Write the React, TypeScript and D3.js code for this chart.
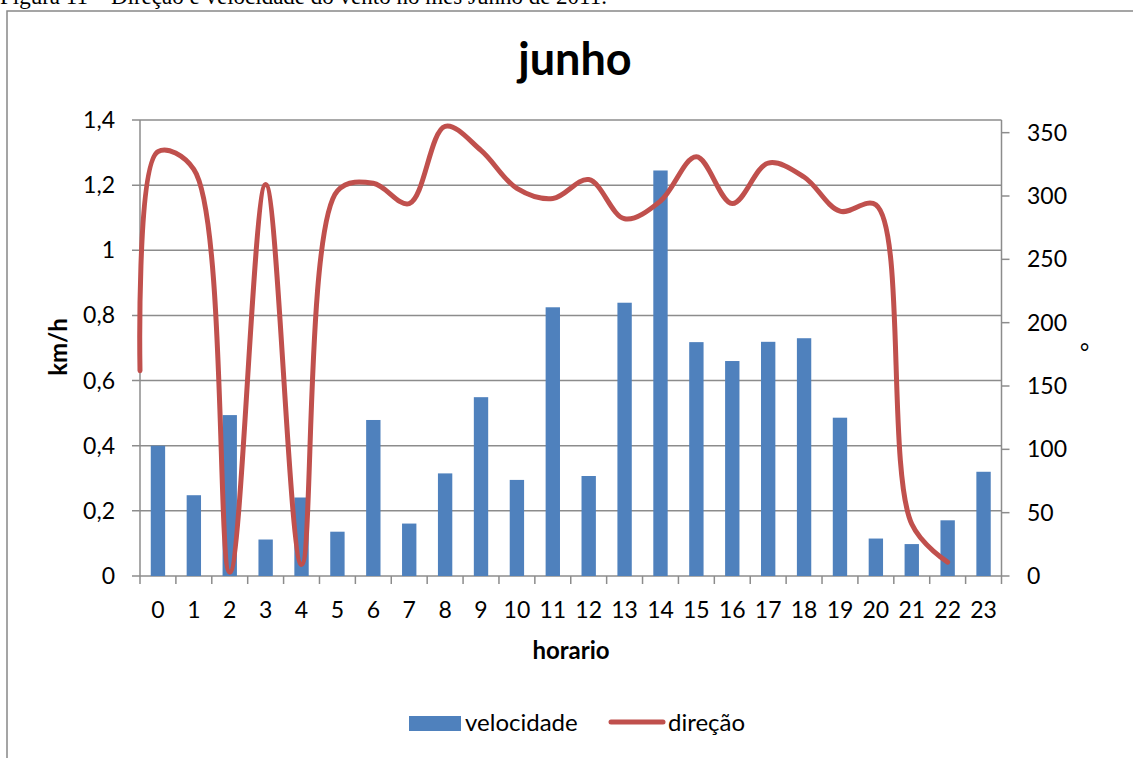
import React from "react";
import * as d3 from "d3";

// horas do dia (categorias)
const horas = ["0", "1", "2", "3", "4", "5", "6", "7", "8", "9", "10", "11", "12", "13", "14", "15", "16", "17", "18", "19", "20", "21", "22", "23"];
// velocidade media (km/h)
const velocidade = [0.40, 0.248, 0.494, 0.112, 0.241, 0.136, 0.479, 0.161, 0.315, 0.549, 0.295, 0.825, 0.307, 0.839, 1.245, 0.718, 0.66, 0.719, 0.73, 0.486, 0.115, 0.098, 0.171, 0.32];
// direcao media (graus), sem valor na hora 23
const direcao = [335, 321, 3, 309, 9, 304, 310, 294, 355, 336, 306, 298, 313, 282, 296, 331, 294, 326, 315, 288, 293, 41, 11, null];
// a linha comeca na borda esquerda do grafico
const direcaoInicio = 162;

const ticksKmh = [0, 0.2, 0.4, 0.6, 0.8, 1, 1.2, 1.4];
const ticksGraus = [0, 50, 100, 150, 200, 250, 300, 350];

const W = 1133;
const H = 758;
const left = 140;
const right = 1001.5;
const top = 120;
const bottom = 576;

const font = "Lato, 'Open Sans', sans-serif";
const grid = "#8c8c8c";
const azul = "#4F81BD";
const vermelho = "#C0504D";

export default function App() {
	const x = d3.scaleBand().domain(horas).range([left, right]).padding(0);
	const y = d3.scaleLinear().domain([0, 1.4]).range([bottom, top]);
	const y2 = d3.scaleLinear().domain([0, 360]).range([bottom, top]);
	const bw = x.bandwidth() / 2.5;
	const fmt = (v) => String(Math.round(v * 10) / 10).replace(".", ",");

	const pts = [[x(horas[0]), y2(direcaoInicio)]];
	direcao.forEach((d, i) => {
		if (d !== null) pts.push([x(horas[i]) + x.bandwidth() / 2, y2(d)]);
	});
	const line = d3.line().curve(d3.curveCatmullRom.alpha(0.5));

	return (
		<svg width={W} height={H} style={{ position: "absolute", left: 0, top: 0, background: "#fff" }}>
			<text x={0} y={4} fontFamily="'Liberation Serif', serif" fontSize={23} fill="#000">
				Figura 11 – Direção e velocidade do vento no mês Junho de 2011.
			</text>
			<rect x={7} y={11} width={1200} height={800} fill="none" stroke="#888" strokeWidth={1.5} />

			<text x={575} y={75} textAnchor="middle" fontFamily={font} fontWeight="bold" fontSize={45}>junho</text>

			{/* grade e eixo esquerdo */}
			{ticksKmh.map((t) => (
				<g key={"g" + t}>
					<line x1={left - 8} x2={right} y1={y(t)} y2={y(t)} stroke={grid} strokeWidth={1.5} />
					<text x={115} y={y(t)} dy="0.35em" textAnchor="end" fontFamily={font} fontSize={23}>{fmt(t)}</text>
				</g>
			))}
			<line x1={left} x2={left} y1={top} y2={bottom} stroke={grid} strokeWidth={1.5} />

			{/* eixo direito */}
			<line x1={right} x2={right} y1={top} y2={bottom + 8} stroke={grid} strokeWidth={1.5} />
			{ticksGraus.map((t) => (
				<g key={"r" + t}>
					<line x1={right} x2={right + 8} y1={y2(t)} y2={y2(t)} stroke={grid} strokeWidth={1.5} />
					<text x={1027} y={y2(t)} dy="0.35em" fontFamily={font} fontSize={23}>{t}</text>
				</g>
			))}

			{/* eixo x */}
			{horas.map((h) => (
				<g key={"x" + h}>
					<line x1={x(h)} x2={x(h)} y1={bottom} y2={bottom + 8} stroke={grid} strokeWidth={1.5} />
					<text x={x(h) + x.bandwidth() / 2} y={610} dy="0.35em" textAnchor="middle" fontFamily={font} fontSize={23}>{h}</text>
				</g>
			))}

			{/* barras */}
			{velocidade.map((v, i) => (
				<rect key={"b" + i} x={x(horas[i]) + (x.bandwidth() - bw) / 2} y={y(v)} width={bw} height={bottom - y(v)} fill={azul} />
			))}

			{/* linha de direcao */}
			<path d={line(pts)} fill="none" stroke={vermelho} strokeWidth={5} strokeLinejoin="round" strokeLinecap="round" />

			{/* titulos dos eixos */}
			<text transform="translate(67,347) rotate(-90)" textAnchor="middle" fontFamily={font} fontWeight="bold" fontSize={24}>km/h</text>
			<text transform="translate(1098,347) rotate(-90)" textAnchor="middle" fontFamily={font} fontSize={24}>°</text>
			<text x={571} y={651} dy="0.35em" textAnchor="middle" fontFamily={font} fontWeight="bold" fontSize={24}>horario</text>

			{/* legenda */}
			<rect x={409} y={716} width={52} height={15} fill={azul} />
			<text x={465} y={723} dy="0.35em" fontFamily={font} fontSize={24}>velocidade</text>
			<line x1={611} x2={663} y1={722} y2={722} stroke={vermelho} strokeWidth={5} strokeLinecap="round" />
			<text x={668} y={723} dy="0.35em" fontFamily={font} fontSize={24}>direção</text>
		</svg>
	);
}
